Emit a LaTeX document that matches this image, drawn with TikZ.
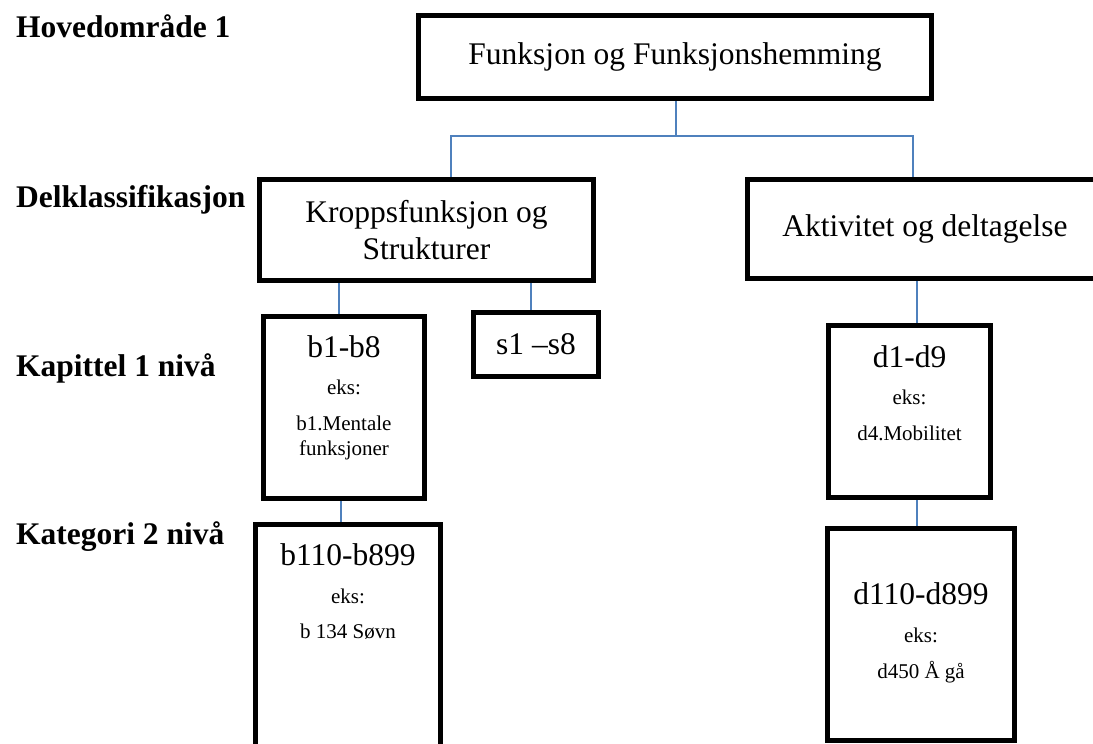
\documentclass[tikz,border=0pt]{standalone}
\usepackage{fontspec}
\setmainfont{Liberation Serif}
\usetikzlibrary{positioning, calc, backgrounds}
\definecolor{linkblue}{RGB}{79,129,189}

\begin{document}
\begin{tikzpicture}[
    x=1pt, y=-1pt,
    font=\fontsize{31.5}{37}\selectfont,
    box/.style={rectangle, draw, line width=5pt, inner sep=0pt, align=center},
    level/.style={anchor=base west, font=\fontsize{31.5}{37}\selectfont\bfseries},
    code/.style={anchor=base},
    note/.style={anchor=base, font=\fontsize{21}{24}\selectfont},
    link/.style={draw=linkblue, line width=2pt}
]
\useasboundingbox (0,0) rectangle (1093,744);

    % Levels on the left
    \node[level] (lvl1) at (12.6,37.7) {Hovedområde 1};
    \node[level] (lvl2) at (12.6,207) {Delklassifikasjon};
    \node[level] (lvl3) at (12.6,376) {Kapittel 1 nivå};
    \node[level] (lvl4) at (12.6,544) {Kategori 2 nivå};

    % --- Boxes ---
    \node[box, minimum width=513, minimum height=83.5] (main) at (675,56.8) {Funksjon og Funksjonshemming};
    \node[box, minimum width=334, minimum height=101] (kropp) at (426.5,230) {Kroppsfunksjon og\\Strukturer};
    \node[box, minimum width=355, minimum height=99] (akt) at (925,229) {Aktivitet og deltagelse};

    \node[box, minimum width=161, minimum height=182] (b1) at (344,407.5) {};
    \node[box, minimum width=125, minimum height=64] (s1) at (536,344.5) {s1 –s8};
    \node[box, minimum width=162, minimum height=172] (d1) at (909.5,411.5) {};

    \node[box, minimum width=185, minimum height=235.5] (b110) at (348,642) {};
    \node[box, minimum width=187, minimum height=212] (d110) at (921,634.5) {};

    % Texts inside the chapter boxes
    \node[code] (b1code) at (344,357.7) {b1-b8};
    \node[note] (b1eks) at (344,394) {eks:};
    \node[note] (b1ex) at (344,430.7) {b1.Mentale};
    \node[note] (b1exb) at (344,455) {funksjoner};

    \node[code] (d1code) at (909.5,367) {d1-d9};
    \node[note] (d1eks) at (909.5,404) {eks:};
    \node[note] (d1ex) at (909.5,440) {d4.Mobilitet};

    % Texts inside the category boxes
    \node[code] (b110code) at (348,565) {b110-b899};
    \node[note] (b110eks) at (348,603) {eks:};
    \node[note] (b110ex) at (348,638) {b 134 Søvn};

    \node[code] (d110code) at (921,604) {d110-d899};
    \node[note] (d110eks) at (921,642) {eks:};
    \node[note] (d110ex) at (921,678) {d450 Å gå};

    % --- Connectors ---
    \coordinate (split) at (676,136);
    \begin{scope}[on background layer]
    \draw[link] (main.south -| split) -- (split);
    \draw[link] ($(kropp.north)+(24.5,0)$) |- (split) -| ($(akt.north)+(-12,0)$);

    \draw[link] ($(kropp.south)+(-87.5,0)$) -- ($(b1.north)+(-5,0)$);
    \draw[link] ($(kropp.south)+(104.5,0)$) -- ($(s1.north)+(-5,0)$);
    \draw[link] ($(b1.south)+(-3,0)$) -- ($(b110.north)+(-7,0)$);

    \draw[link] ($(akt.south)+(-8,0)$) -- ($(d1.north)+(7.5,0)$);
    \draw[link] ($(d1.south)+(7.5,0)$) -- ($(d110.north)+(-4,0)$);
    \end{scope}

\end{tikzpicture}
\end{document}
